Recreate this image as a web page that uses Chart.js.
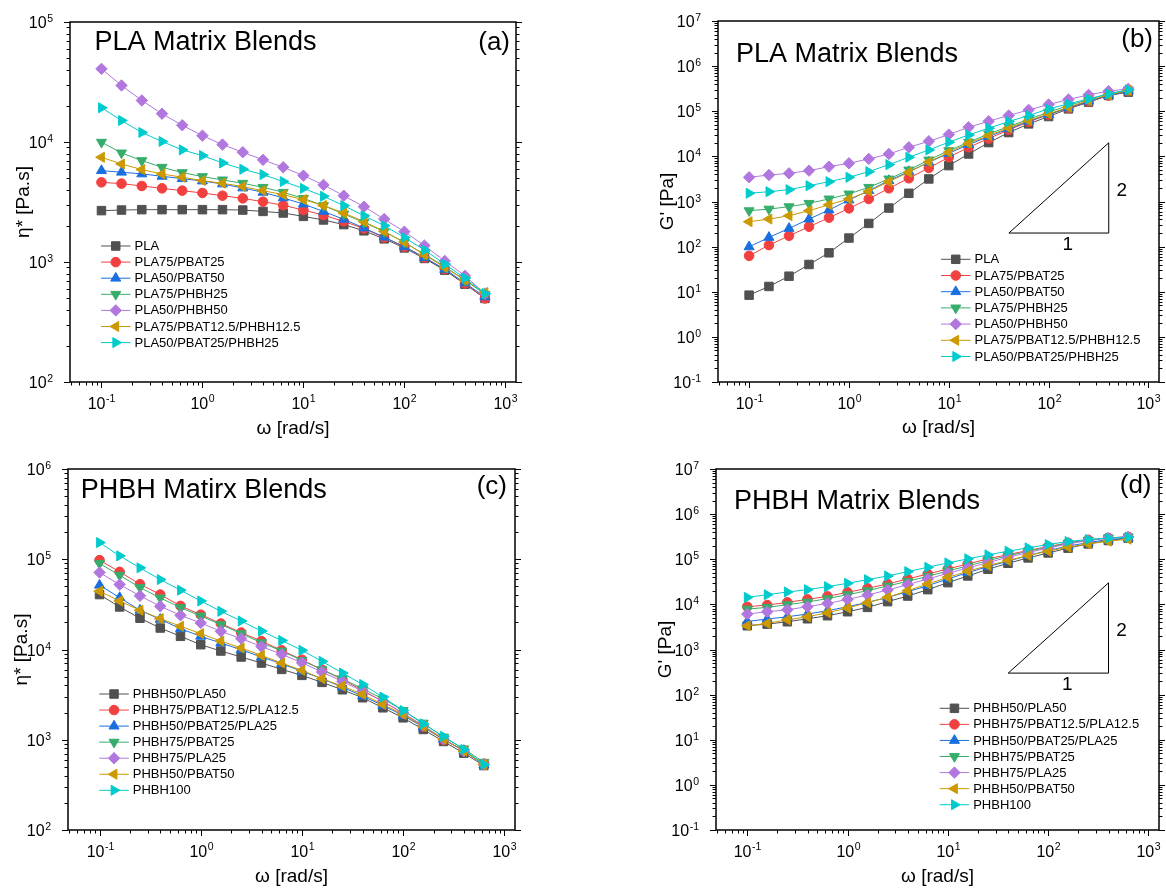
<!DOCTYPE html>
<html>
<head>
<meta charset="utf-8">
<title>Rheology of PLA / PHBH blends</title>
<script src="https://cdn.jsdelivr.net/npm/chart.js@4.4.0/dist/chart.umd.min.js"></script>
<style>
  body { margin: 0; background: #fff; }
  #wrap { position: relative; width: 1166px; height: 888px; }
  .panel { position: absolute; width: 583px; height: 444px; }
</style>
</head>
<body>
<div id="wrap">
  <div class="panel" style="left:0;top:0"><canvas id="chartA" width="583" height="444"></canvas></div>
  <div class="panel" style="left:583px;top:0"><canvas id="chartB" width="583" height="444"></canvas></div>
  <div class="panel" style="left:0;top:444px"><canvas id="chartC" width="583" height="444"></canvas></div>
  <div class="panel" style="left:583px;top:444px"><canvas id="chartD" width="583" height="444"></canvas></div>
</div>
<script>
// angular frequency [rad/s], same sweep for every sample
const omega = [0.1, 0.158, 0.251, 0.398, 0.631, 1, 1.58, 2.51, 3.98, 6.31, 10, 15.8, 25.1, 39.8, 63.1, 100, 158, 251, 398, 628]

const plaNames = ['PLA', 'PLA75/PBAT25', 'PLA50/PBAT50', 'PLA75/PHBH25', 'PLA50/PHBH50', 'PLA75/PBAT12.5/PHBH12.5', 'PLA50/PBAT25/PHBH25']
const phbhNames = ['PHBH50/PLA50', 'PHBH75/PBAT12.5/PLA12.5', 'PHBH50/PBAT25/PLA25', 'PHBH75/PBAT25', 'PHBH75/PLA25', 'PHBH50/PBAT50', 'PHBH100']

// (a) complex viscosity, PLA matrix [Pa.s]
const etaPLA = [2680, 2710, 2730, 2730, 2730, 2730, 2730, 2710, 2640, 2560, 2400, 2240, 2050, 1820, 1560, 1310, 1070, 855, 653, 497]
const etaPLA75PBAT25 = [4610, 4500, 4300, 4110, 3930, 3760, 3570, 3390, 3180, 2970, 2710, 2460, 2180, 1900, 1600, 1340, 1090, 873, 663, 497]
const etaPLA50PBAT50 = [5770, 5600, 5420, 5180, 4950, 4730, 4470, 4140, 3810, 3420, 3040, 2640, 2270, 1920, 1610, 1340, 1090, 867, 670, 512]
const etaPLA75PHBH25 = [9960, 8110, 7000, 6160, 5560, 5150, 4830, 4530, 4190, 3810, 3390, 2950, 2510, 2140, 1790, 1460, 1160, 918, 706, 539]
const etaPLA50PHBH50 = [40700, 29600, 22200, 17200, 13800, 11300, 9520, 8220, 7100, 6160, 5250, 4390, 3570, 2890, 2280, 1790, 1370, 1020, 767, 546]
const etaPLA75PBAT12PHBH12 = [7460, 6560, 5890, 5420, 5080, 4770, 4530, 4250, 3930, 3640, 3310, 2960, 2560, 2170, 1800, 1460, 1150, 900, 706, 557]
const etaPLA50PBAT25PHBH25 = [19300, 15100, 12000, 10100, 8600, 7710, 6690, 5930, 5350, 4680, 4110, 3530, 2950, 2430, 2010, 1600, 1260, 960, 733, 546]

// (b) storage modulus, PLA matrix [Pa]
const gPLA = [8.4, 13.1, 22.1, 40.2, 73, 155, 327, 716, 1520, 3160, 6240, 11300, 20200, 33700, 52500, 76400, 113000, 159000, 223000, 265000]
const gPLA75PBAT25 = [62.5, 108, 174, 276, 437, 704, 1140, 1960, 3270, 5540, 9550, 15900, 24800, 38700, 58200, 84600, 119000, 164000, 223000, 279000]
const gPLA50PBAT50 = [99, 160, 253, 408, 647, 1080, 1740, 2900, 4590, 7400, 11700, 18200, 27500, 40700, 60100, 84600, 119000, 167000, 223000, 279000]
const gPLA75PHBH25 = [625, 680, 767, 910, 1140, 1470, 2060, 3160, 5000, 8340, 13400, 20600, 31500, 45800, 66700, 95300, 134000, 182000, 243000, 299000]
const gPLA50PHBH50 = [3440, 3870, 4210, 4830, 5930, 7030, 8780, 11300, 15900, 21600, 30400, 44300, 60100, 80400, 107000, 141000, 182000, 231000, 279000, 314000]
const gPLA75PBAT12PHBH12 = [356, 408, 484, 625, 849, 1140, 1680, 2750, 4440, 7520, 12300, 19500, 28900, 42800, 62200, 87500, 123000, 173000, 231000, 289000]
const gPLA50PBAT25PHBH25 = [1520, 1650, 1830, 2240, 2750, 3440, 4590, 6560, 9550, 13900, 20600, 29900, 42100, 59200, 80400, 113000, 146000, 188000, 243000, 299000]

// (c) complex viscosity, PHBH matrix [Pa.s]
const etaPHBH50PLA50 = [40600, 29600, 22200, 17300, 14000, 11300, 9620, 8260, 7080, 6020, 5170, 4320, 3580, 2920, 2260, 1750, 1300, 957, 710, 518]
const etaPHBH75PBAT12PLA12 = [97700, 72500, 52900, 40600, 30400, 24300, 19400, 15400, 12400, 9790, 7710, 5970, 4660, 3520, 2660, 1970, 1400, 998, 760, 541]
const etaPHBH50PBAT25PLA25 = [51600, 37600, 27200, 21600, 17000, 14000, 11800, 9950, 8260, 6960, 5730, 4750, 3830, 3050, 2400, 1860, 1380, 1010, 760, 531]
const etaPHBH75PBAT25 = [89700, 66600, 48600, 37300, 29100, 23500, 18900, 15000, 11900, 9620, 7580, 5970, 4750, 3670, 2840, 2110, 1530, 1070, 793, 564]
const etaPHBH75PLA25 = [71300, 52400, 39300, 30100, 23900, 19700, 15900, 13200, 10800, 8840, 7140, 5630, 4430, 3460, 2660, 1970, 1440, 1020, 747, 531]
const etaPHBH50PBAT50 = [44200, 34500, 27200, 22000, 18100, 15000, 12400, 10400, 8610, 7080, 5870, 4750, 3930, 3180, 2460, 1910, 1400, 1020, 747, 531]
const etaPHBH100 = [153000, 109000, 80300, 59600, 45400, 34500, 26500, 20700, 16000, 12600, 9790, 7390, 5490, 4100, 2970, 2110, 1500, 1090, 780, 531]

// (d) storage modulus, PHBH matrix [Pa]
const gPHBH50PLA50 = [3360, 3650, 4120, 4800, 5600, 6870, 8580, 11500, 15300, 21200, 30300, 42600, 60000, 81500, 107000, 138000, 176000, 219000, 260000, 293000]
const gPHBH75PBAT12PLA12 = [8870, 9660, 11100, 12900, 15100, 18500, 22700, 28300, 36600, 47200, 61000, 78800, 102000, 127000, 156000, 191000, 231000, 269000, 298000, 313000]
const gPHBH50PBAT25PLA25 = [4190, 4720, 5320, 6100, 7230, 8870, 11100, 14300, 19100, 26000, 36600, 50600, 68700, 90300, 121000, 156000, 195000, 234000, 274000, 293000]
const gPHBH75PBAT25 = [7870, 8580, 9830, 11300, 13400, 16400, 20100, 25600, 32400, 41900, 55000, 71100, 93400, 119000, 151000, 185000, 227000, 264000, 298000, 313000]
const gPHBH75PLA25 = [6100, 6870, 7610, 8870, 10500, 12900, 16100, 20800, 27400, 36600, 48900, 64100, 84300, 111000, 141000, 176000, 219000, 260000, 293000, 313000]
const gPHBH50PBAT50 = [3360, 3780, 4560, 5320, 6530, 8300, 10900, 14300, 20100, 28300, 39800, 54100, 72300, 93400, 121000, 151000, 185000, 219000, 251000, 278000]
const gPHBH100 = [14300, 16400, 18800, 21200, 24700, 29300, 35300, 42600, 53200, 66400, 83000, 102000, 125000, 151000, 179000, 212000, 247000, 274000, 293000, 308000]

// slope 2 guide triangles (data coords, omega / G')
const slopeTriB = [[40, 200], [400, 200], [400, 20000]]
const slopeTriD = [[40, 300], [400, 300], [400, 30000]]

const xMin = 0.0488, xMax = 1275

const FONT = '"Liberation Sans", Arial, Helvetica, sans-serif'
const colors = ['#515151', '#F14040', '#1A6FDF', '#37AD6B', '#B177DE', '#CC9900', '#00CBCC']
// [pointStyle, rotation, radius]
const shapes = [['rect', 0, 6], ['circle', 0, 4.8], ['triangle', 0, 5.8], ['triangle', 180, 5.8], ['rectRot', 0, 5.7], ['triangle', -90, 5.8], ['triangle', 90, 5.8]]

function makeSets(names, series) {
  return series.map((vals, i) => ({
    label: names[i],
    data: vals.map((v, j) => ({ x: omega[j], y: v })),
    borderColor: colors[i],
    backgroundColor: colors[i],
    pointBackgroundColor: colors[i],
    pointBorderColor: colors[i],
    borderWidth: 1,
    pointBorderWidth: 1,
    pointStyle: shapes[i][0],
    pointRotation: shapes[i][1],
    pointRadius: shapes[i][2],
    order: -i
  }))
}

function slopeSet(tri) {
  return {
    label: 'slope',
    isSlope: true,
    data: tri.concat([tri[0]]).map(p => ({ x: p[0], y: p[1] })),
    borderColor: '#000',
    borderWidth: 1,
    pointRadius: 0,
    order: 10
  }
}

function logTicks(min, max) {
  const out = []
  for (let e = Math.floor(Math.log10(min)); e <= Math.ceil(Math.log10(max)); e++) {
    for (let m = 1; m <= 9; m++) {
      const v = m * Math.pow(10, e)
      if (v >= min * 0.9999 && v <= max * 1.0001) out.push({ v: v, e: e, major: m === 1 })
    }
  }
  return out
}

function line(c, x1, y1, x2, y2) {
  c.beginPath(); c.moveTo(x1, y1); c.lineTo(x2, y2); c.stroke()
}

// "10" with a raised exponent, y is the middle of the digits
function drawPow(c, e, x, y, align) {
  c.font = '16px ' + FONT
  const wb = c.measureText('10').width
  c.font = '10.5px ' + FONT
  const we = c.measureText(String(e)).width
  const total = wb + we + 0.5
  const x0 = align === 'center' ? x - total / 2 : x - total
  c.textAlign = 'left'
  c.textBaseline = 'alphabetic'
  c.font = '16px ' + FONT
  c.fillText('10', x0, y + 5.8)
  c.font = '10.5px ' + FONT
  c.fillText(String(e), x0 + wb + 0.5, y - 0.8)
}

function marker(c, ds, x, y) {
  c.fillStyle = ds.pointBackgroundColor
  c.strokeStyle = ds.pointBorderColor
  c.lineWidth = 1
  if (Chart.helpers && Chart.helpers.drawPoint) {
    Chart.helpers.drawPoint(c, { pointStyle: ds.pointStyle, rotation: ds.pointRotation, radius: ds.pointRadius, borderWidth: 1 }, x, y)
    return
  }
  const r = ds.pointRadius
  c.beginPath()
  if (ds.pointStyle === 'circle') c.arc(x, y, r, 0, Math.PI * 2)
  else if (ds.pointStyle === 'rect') c.rect(x - r * Math.SQRT1_2, y - r * Math.SQRT1_2, 2 * r * Math.SQRT1_2, 2 * r * Math.SQRT1_2)
  else if (ds.pointStyle === 'rectRot') { c.moveTo(x, y - r); c.lineTo(x + r, y); c.lineTo(x, y + r); c.lineTo(x - r, y) }
  else {
    let rad = ds.pointRotation * Math.PI / 180
    c.moveTo(x + Math.sin(rad) * r, y - Math.cos(rad) * r)
    rad += 2 * Math.PI / 3
    c.lineTo(x + Math.sin(rad) * r, y - Math.cos(rad) * r)
    rad += 2 * Math.PI / 3
    c.lineTo(x + Math.sin(rad) * r, y - Math.cos(rad) * r)
  }
  c.closePath(); c.fill(); c.stroke()
}

const panels = {}

const decor = {
  id: 'decor',
  afterDraw(chart) {
    const p = panels[chart.canvas.id]
    const c = chart.ctx, a = chart.chartArea
    const xs = chart.scales.x, ys = chart.scales.y
    c.save()
    c.strokeStyle = '#000'
    c.fillStyle = '#000'

    // frame
    c.lineWidth = 1.5
    c.strokeRect(a.left, a.top, a.right - a.left, a.bottom - a.top)

    // ticks and tick labels
    c.lineWidth = 1
    logTicks(xMin, xMax).forEach(t => {
      const px = Math.round(xs.getPixelForValue(t.v)) + 0.5
      line(c, px, a.bottom, px, a.bottom + (t.major ? 6 : 3.5))
      if (t.major) drawPow(c, t.e, px, a.bottom + 21, 'center')
    })
    logTicks(p.yMin, p.yMax).forEach(t => {
      const py = Math.round(ys.getPixelForValue(t.v)) + 0.5
      const len = t.major ? 6 : 3.5
      line(c, a.left - len, py, a.left, py)
      line(c, a.right, py, a.right + len, py)
      if (t.major) drawPow(c, t.e, a.left - 17, py, 'right')
    })

    // axis titles
    c.font = '19px ' + FONT
    c.textAlign = 'center'
    c.textBaseline = 'middle'
    c.fillText('ω [rad/s]', (a.left + a.right) / 2, a.bottom + p.xTitleDy)
    c.save()
    c.translate(a.left + p.yTitleDx, (a.top + a.bottom) / 2)
    c.rotate(-Math.PI / 2)
    c.fillText(p.yTitle, 0, 0)
    c.restore()

    // panel title and tag
    c.font = '27px ' + FONT
    c.textAlign = 'left'
    c.textBaseline = 'alphabetic'
    c.fillText(p.title, a.left + p.titleDx, a.top + p.titleDy)
    c.font = '26px ' + FONT
    c.textAlign = 'right'
    c.textBaseline = 'middle'
    c.fillText(p.tag, a.right + p.tagDx, a.top + p.tagDy)

    // slope triangle labels
    if (p.slope) {
      const bl = [xs.getPixelForValue(p.slope[0][0]), ys.getPixelForValue(p.slope[0][1])]
      const br = [xs.getPixelForValue(p.slope[1][0]), ys.getPixelForValue(p.slope[1][1])]
      const tr = [xs.getPixelForValue(p.slope[2][0]), ys.getPixelForValue(p.slope[2][1])]
      c.font = '19px ' + FONT
      c.textAlign = 'center'
      c.textBaseline = 'middle'
      c.fillText('2', br[0] + 13, (br[1] + tr[1]) / 2 + 3)
      c.fillText('1', (bl[0] + br[0]) / 2 + 9, br[1] + 12)
    }

    // legend: line with marker, then name
    let row = 0
    chart.data.datasets.forEach(ds => {
      if (ds.isSlope) return
      const x = a.left + p.legDx, y = a.top + p.legDy + row * p.legStep
      c.strokeStyle = ds.borderColor
      c.lineWidth = 1
      line(c, x, y, x + 29.5, y)
      marker(c, ds, x + 14.75, y)
      c.fillStyle = '#000'
      c.font = '13px ' + FONT
      c.textAlign = 'left'
      c.textBaseline = 'middle'
      c.fillText(ds.label, x + 33.5, y + 0.5)
      row++
    })
    c.restore()
  }
}

function makeChart(id, p) {
  panels[id] = p
  const sets = p.slope ? p.sets.concat([slopeSet(p.slope)]) : p.sets
  return new Chart(document.getElementById(id), {
    type: 'line',
    data: { datasets: sets },
    options: {
      responsive: false,
      animation: false,
      layout: { padding: p.pad },
      plugins: { legend: { display: false }, tooltip: { enabled: false } },
      scales: {
        x: { type: 'logarithmic', min: xMin, max: xMax, display: false },
        y: { type: 'logarithmic', min: p.yMin, max: p.yMax, display: false }
      }
    },
    plugins: [decor]
  })
}

const chartA = makeChart('chartA', {
  sets: makeSets(plaNames, [etaPLA, etaPLA75PBAT25, etaPLA50PBAT50, etaPLA75PHBH25, etaPLA50PHBH50, etaPLA75PBAT12PHBH12, etaPLA50PBAT25PHBH25]),
  pad: { left: 70, top: 22, right: 67, bottom: 62 },
  yMin: 100, yMax: 1e5,
  yTitle: 'η* [Pa.s]', yTitleDx: -46, xTitleDy: 47,
  title: 'PLA Matrix Blends', titleDx: 24.5, titleDy: 28,
  tag: '(a)', tagDx: -6, tagDy: 21,
  legDx: 31, legDy: 224, legStep: 16.1
})

const chartB = makeChart('chartB', {
  sets: makeSets(plaNames, [gPLA, gPLA75PBAT25, gPLA50PBAT50, gPLA75PHBH25, gPLA50PHBH50, gPLA75PBAT12PHBH12, gPLA50PBAT25PHBH25]),
  slope: slopeTriB,
  pad: { left: 135, top: 21, right: 2, bottom: 62 },
  yMin: 0.1, yMax: 1e7,
  yTitle: "G' [Pa]", yTitleDx: -50.5, xTitleDy: 46,
  title: 'PLA Matrix Blends', titleDx: 18, titleDy: 41,
  tag: '(b)', tagDx: -6, tagDy: 19,
  legDx: 223, legDy: 238.3, legStep: 16.2
})

const chartC = makeChart('chartC', {
  sets: makeSets(phbhNames, [etaPHBH50PLA50, etaPHBH75PBAT12PLA12, etaPHBH50PBAT25PLA25, etaPHBH75PBAT25, etaPHBH75PLA25, etaPHBH50PBAT50, etaPHBH100]),
  pad: { left: 68, top: 25, right: 68, bottom: 58 },
  yMin: 100, yMax: 1e6,
  yTitle: 'η* [Pa.s]', yTitleDx: -46, xTitleDy: 47,
  title: 'PHBH Matirx Blends', titleDx: 12.7, titleDy: 29,
  tag: '(c)', tagDx: -8, tagDy: 18,
  legDx: 31.3, legDy: 225, legStep: 16.05
})

const chartD = makeChart('chartD', {
  sets: makeSets(phbhNames, [gPHBH50PLA50, gPHBH75PBAT12PLA12, gPHBH50PBAT25PLA25, gPHBH75PBAT25, gPHBH75PLA25, gPHBH50PBAT50, gPHBH100]),
  slope: slopeTriD,
  pad: { left: 133, top: 25, right: 3, bottom: 58 },
  yMin: 0.1, yMax: 1e7,
  yTitle: "G' [Pa]", yTitleDx: -50.4, xTitleDy: 47,
  title: 'PHBH Matrix Blends', titleDx: 18, titleDy: 40,
  tag: '(d)', tagDx: -7.5, tagDy: 17,
  legDx: 223.7, legDy: 239.3, legStep: 16.07
})
</script>
</body>
</html>
